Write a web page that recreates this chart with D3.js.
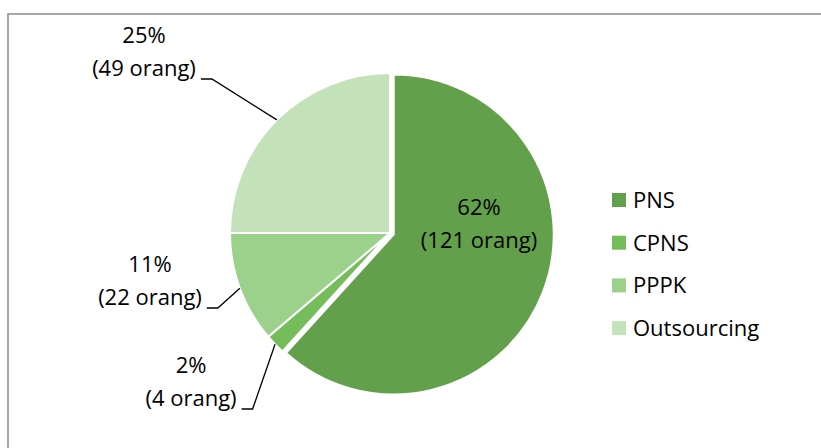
<!DOCTYPE html>
<html>
<head>
<meta charset="utf-8">
<script src="https://cdn.jsdelivr.net/npm/d3@7"></script>
<style>
  html, body { margin: 0; padding: 0; background: #fff; }
  svg text { font-family: "Open Sans", Lato, sans-serif; fill: #000; }
</style>
</head>
<body>
<div id="chart"></div>
<script>
(function () {
  var categories = ['PNS', 'CPNS', 'PPPK', 'Outsourcing'];
  var counts     = [121, 4, 22, 49];
  var percents   = ['62%', '2%', '11%', '25%'];

  var COLORS   = ['#63a04c', '#75bc5b', '#9bd18a', '#c3e2b9'];
  var W = 821, H = 448;
  var CX = 390, CY = 233, R = 160;
  var FONT = 22, LINE = 33;

  // label placement relative to the pie centre: [text centre x, first baseline y]
  var labelAt = {
    PNS:         [89, -18],
    CPNS:        [-199, 140],
    PPPK:        [-240, 39],
    Outsourcing: [-246, -190]
  };

  var svg = d3.select('#chart')
    .append('svg')
    .attr('width', W)
    .attr('height', H);

  // chart frame
  svg.append('rect')
    .attr('x', 8).attr('y', 14)
    .attr('width', W + 20).attr('height', H + 20)
    .attr('fill', 'none')
    .attr('stroke', '#8a8a8a')
    .attr('stroke-width', 1.5);

  var data = categories.map(function (c, i) {
    return { name: c, value: counts[i], pct: percents[i], color: COLORS[i] };
  });

  var pie = d3.pie().sort(null).value(function (d) { return d.value; });
  var arcs = pie(data);
  var arc = d3.arc().innerRadius(0).outerRadius(R);

  var g = svg.append('g').attr('transform', 'translate(' + CX + ',' + CY + ')');

  g.selectAll('path')
    .data(arcs)
    .join('path')
    .attr('d', arc)
    .attr('fill', function (d) { return d.data.color; })
    .attr('stroke', '#fff')
    .attr('stroke-width', 2)
    .attr('transform', function (d) {
      if (d.data.name !== 'PNS') return null;
      var m = (d.startAngle + d.endAngle) / 2;
      return 'translate(' + (Math.sin(m) * 4) + ',' + (-Math.cos(m) * 4) + ')';
    });

  // data labels
  arcs.forEach(function (d) {
    var p = labelAt[d.data.name];
    var t = g.append('text')
      .attr('text-anchor', 'middle')
      .attr('font-size', FONT);
    t.append('tspan').attr('x', p[0]).attr('y', p[1]).text(d.data.pct);
    var second = t.append('tspan').attr('x', p[0]).attr('y', p[1] + LINE)
      .text('(' + d.data.value + ' orang)');

    if (d.data.name === 'PNS') return;

    var w = second.node().getComputedTextLength();
    var m = (d.startAngle + d.endAngle) / 2;
    var ax = p[0] + w / 2 + 5, ay = p[1] + LINE + 3;
    var ex = ax + 11;
    var px = Math.sin(m) * R, py = -Math.cos(m) * R;
    g.append('path')
      .attr('d', d3.line()([[ax, ay], [ex, ay], [px, py]]))
      .attr('fill', 'none')
      .attr('stroke', '#000')
      .attr('stroke-width', 1.3);
  });

  // legend
  var legend = svg.append('g').attr('transform', 'translate(612,200)');
  var rows = legend.selectAll('g')
    .data(data)
    .join('g')
    .attr('transform', function (d, i) { return 'translate(0,' + (i * 42.7) + ')'; });
  rows.append('rect')
    .attr('x', 0).attr('y', -7)
    .attr('width', 14).attr('height', 14)
    .attr('fill', function (d) { return d.color; });
  rows.append('text')
    .attr('x', 21).attr('y', 8)
    .attr('font-size', FONT)
    .text(function (d) { return d.name; });
})();
</script>
</body>
</html>
